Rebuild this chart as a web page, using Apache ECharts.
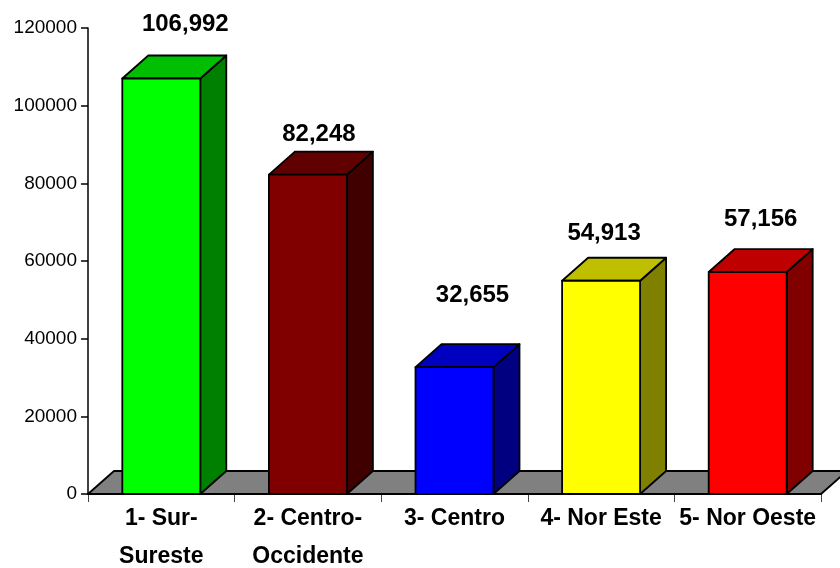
<!DOCTYPE html>
<html>
<head>
<meta charset="utf-8">
<script src="https://cdn.jsdelivr.net/npm/echarts@6/dist/echarts.min.js"></script>
<style>
  html, body { margin: 0; padding: 0; background: #fff; }
  #main { width: 840px; height: 568px; }
</style>
</head>
<body>
<div id="main"></div>
<script>
const categories = ["1- Sur-\nSureste", "2- Centro-\nOccidente", "3- Centro", "4- Nor Este", "5- Nor Oeste"];
const values = [106992, 82248, 32655, 54913, 57156];
const yTicks = [0, 20000, 40000, 60000, 80000, 100000, 120000];

const frontColors = ["#00ff00", "#800000", "#0000ff", "#ffff00", "#ff0000"];
const topColors = ["#00bf00", "#600000", "#0000bf", "#bfbf00", "#bf0000"];
const sideColors = ["#008000", "#400000", "#000080", "#808000", "#800000"];
// where each value label sits, relative to the top centre of the front face
const labelShift = [[24, -54], [11, -40], [18, -72], [3, -47], [13, -53]];

const depthX = 26;
const depthY = 23;
const edge = { stroke: "#000", lineWidth: 1.8, lineJoin: "round" };

function poly(points, fill) {
  return { type: "polygon", shape: { points: points }, style: Object.assign({ fill: fill }, edge) };
}

const myChart = echarts.init(document.getElementById("main"), null, { renderer: "canvas" });

myChart.setOption({
  animation: false,
  backgroundColor: "#fff",
  grid: { left: 88, right: 19, top: 28, bottom: 74, outerBoundsMode: "none" },
  xAxis: {
    type: "category",
    data: categories,
    axisLine: { lineStyle: { color: "#000", width: 2 } },
    axisTick: { show: true, alignWithLabel: false, interval: 0, length: 8, lineStyle: { color: "#444", width: 1 } },
    axisLabel: {
      interval: 0, margin: 6, color: "#000", fontFamily: "Liberation Sans",
      fontWeight: "bold", fontSize: 23, lineHeight: 38, hideOverlap: false
    }
  },
  yAxis: {
    type: "value",
    min: yTicks[0],
    max: yTicks[yTicks.length - 1],
    interval: yTicks[1] - yTicks[0],
    splitLine: { show: false },
    axisLine: { show: true, lineStyle: { color: "#000", width: 1.5 } },
    axisTick: { show: true, length: 7, lineStyle: { color: "#000", width: 1.5 } },
    axisLabel: {
      margin: 11, color: "#000", fontFamily: "Liberation Sans", fontSize: 19,
      padding: [3, 0, 0, 0],
      formatter: function (v) { return String(v); }
    }
  },
  series: [
    {
      // grey floor of the 3D plot
      type: "custom",
      z: 1,
      clip: false,
      silent: true,
      data: [[0, 0]],
      encode: { x: 0, y: 1 },
      renderItem: function (params, api) {
        const c = params.coordSys;
        const b = c.y + c.height;
        return poly([
          [c.x, b], [c.x + depthX, b - depthY],
          [c.x + c.width + depthX, b - depthY], [c.x + c.width, b]
        ], "#808080");
      }
    },
    {
      type: "custom",
      z: 2,
      clip: false,
      data: values.map(function (v, i) { return [i, v]; }),
      encode: { x: 0, y: 1 },
      renderItem: function (params, api) {
        const i = params.dataIndex;
        const top = api.coord([api.value(0), api.value(1)]);
        const base = api.coord([api.value(0), 0]);
        const w = api.size([1, 0])[0] * 0.532;
        const l = top[0] - w / 2;
        const r = top[0] + w / 2;
        return {
          type: "group",
          children: [
            poly([[r, top[1]], [r + depthX, top[1] - depthY], [r + depthX, base[1] - depthY], [r, base[1]]], sideColors[i]),
            poly([[l, top[1]], [l + depthX, top[1] - depthY], [r + depthX, top[1] - depthY], [r, top[1]]], topColors[i]),
            poly([[l, top[1]], [r, top[1]], [r, base[1]], [l, base[1]]], frontColors[i]),
            {
              type: "text",
              x: top[0] + labelShift[i][0],
              y: top[1] + labelShift[i][1],
              style: {
                text: api.value(1).toLocaleString("en-US"),
                fill: "#000",
                font: "bold 24px 'Liberation Sans'",
                align: "center",
                verticalAlign: "middle"
              }
            }
          ]
        };
      }
    }
  ]
});
</script>
</body>
</html>
